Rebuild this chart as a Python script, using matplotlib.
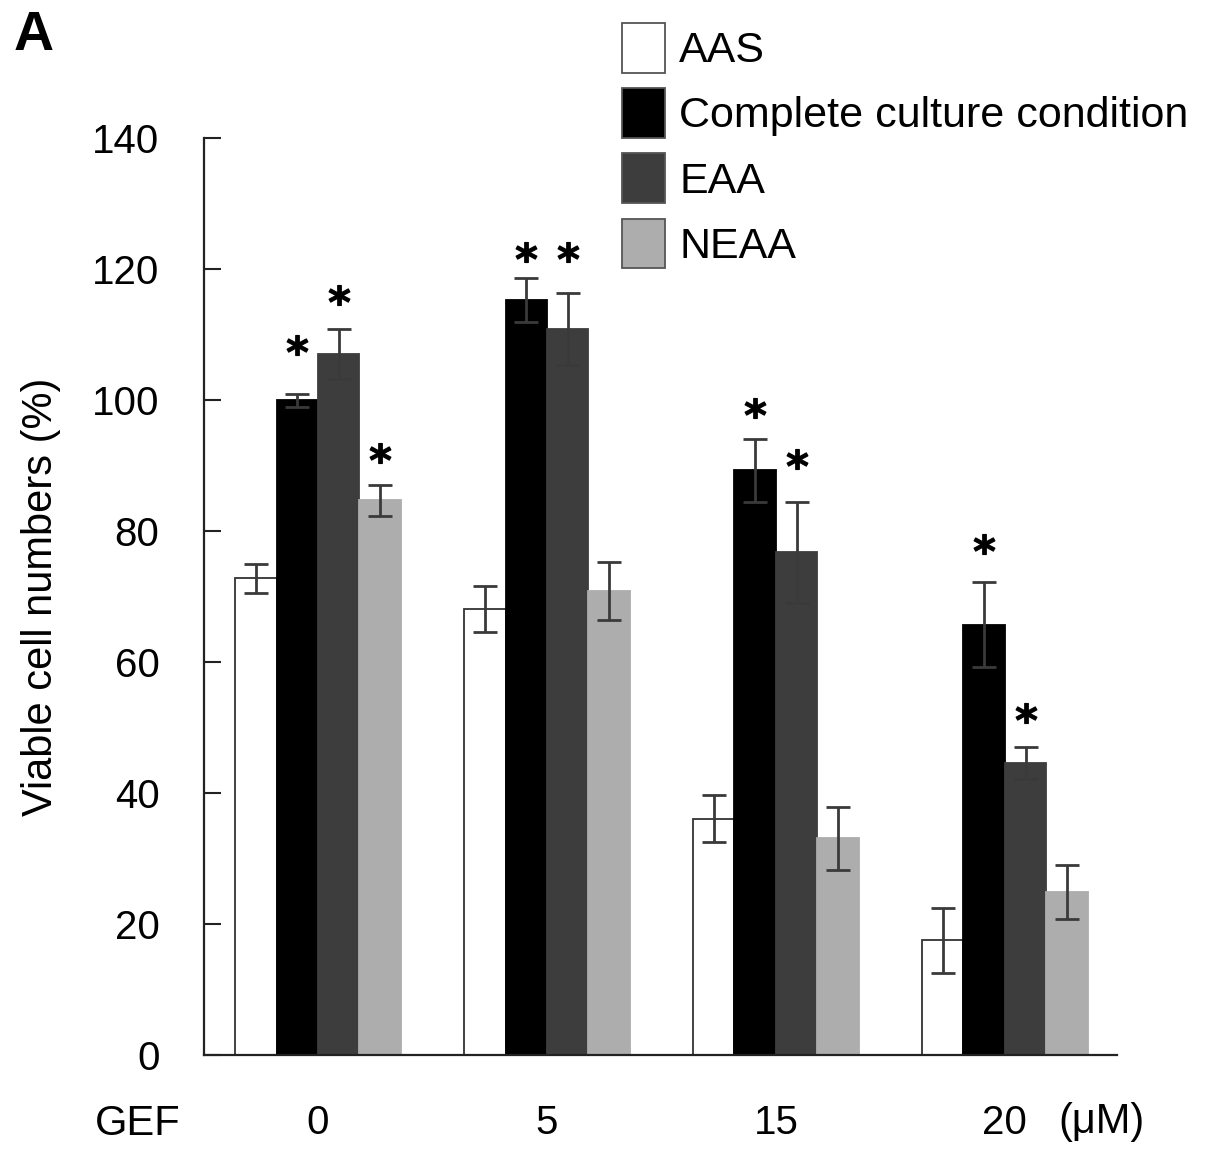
import numpy as np
import matplotlib
matplotlib.use("Agg")
import matplotlib.pyplot as plt
from matplotlib.patches import Patch

plt.rcParams['font.family'] = ['Liberation Sans', 'DejaVu Sans']

# data
doses = ["0", "5", "15", "20"]
series = ["AAS", "Complete culture condition", "EAA", "NEAA"]
aas = [72.8, 68.1, 36.1, 17.5]
aas_err = [2.2, 3.5, 3.6, 5.0]
complete = [100.0, 115.3, 89.3, 65.7]
complete_err = [1.0, 3.3, 4.8, 6.5]
eaa = [107.1, 110.9, 76.8, 44.6]
eaa_err = [3.8, 5.5, 7.7, 2.4]
neaa = [84.7, 70.9, 33.1, 24.9]
neaa_err = [2.35, 4.4, 4.8, 4.1]
# height of the significance asterisks (None = no mark)
aas_star = [None, None, None, None]
complete_star = [108.5, 122.7, 98.8, 78.1]
eaa_star = [116.0, 122.7, 91.0, 52.3]
neaa_star = [91.9, None, None, None]

fills = ["white", "black", "#3d3d3d", "#adadad"]
edges = ["#333333", "black", "#3d3d3d", "#adadad"]

fig = plt.figure(figsize=(12.05, 11.53), dpi=100)
ax = fig.add_axes([0.1693, 0.085, 0.927 - 0.1693, 0.880 - 0.085])

x = np.arange(len(doses))
w = 0.181
means = [aas, complete, eaa, neaa]
errs = [aas_err, complete_err, eaa_err, neaa_err]
stars = [aas_star, complete_star, eaa_star, neaa_star]

for i in range(4):
    pos = x + (i - 1.5) * w
    ax.bar(pos, means[i], w, color=fills[i], edgecolor=edges[i], linewidth=1.3, zorder=2)
    ax.errorbar(pos, means[i], yerr=errs[i], fmt='none', ecolor='#3a3a3a',
                elinewidth=2, capsize=8.5, capthick=2, zorder=3)
    sx = [pos[j] for j in range(len(doses)) if stars[i][j] is not None]
    sy = [stars[i][j] for j in range(len(doses)) if stars[i][j] is not None]
    ax.plot(sx, sy, linestyle='none', marker=r'$\mathbf{*}$', markersize=15,
            color='black', markeredgewidth=0.8, zorder=4)

ax.set_xlim(-0.498, 3.49)
ax.set_ylim(0, 140)
ax.set_yticks(np.arange(0, 141, 20))
ax.set_xticks(x)
ax.set_xticklabels(doses)
ax.tick_params(axis='y', direction='in', length=12, width=1.5, labelsize=29, pad=32, color='#222222')
ax.tick_params(axis='x', length=0, labelsize=29, pad=35)
for s in ['top', 'right']:
    ax.spines[s].set_visible(False)
for s in ['left', 'bottom']:
    ax.spines[s].set_linewidth(1.6)
    ax.spines[s].set_color('#222222')

ax.set_ylabel("Viable cell numbers (%)", fontsize=30)
ax.yaxis.set_label_coords(-0.157, 0.5)

fig.text(95 / 1205, 1 - 1124 / 1153, "GEF", fontsize=30, ha='left', va='center')
fig.text(1058 / 1205, 1 - 1122 / 1153, "(\u03bcM)", fontsize=30, ha='left', va='center')
fig.text(14 / 1205, 1 - 36 / 1153, "A", fontsize=40, ha='left', va='center', fontweight='bold')

handles = [Patch(facecolor=fills[i], edgecolor='#555555', linewidth=1.3) for i in range(4)]
fig.legend(handles, series, loc='upper left', bbox_to_anchor=(622 / 1205, 1 - 23 / 1153),
           frameon=False, fontsize=31, handlelength=1.0, handleheight=1.4,
           handletextpad=0.33, labelspacing=0.36, borderpad=0, borderaxespad=0)

fig.savefig("out.png", dpi=100)
